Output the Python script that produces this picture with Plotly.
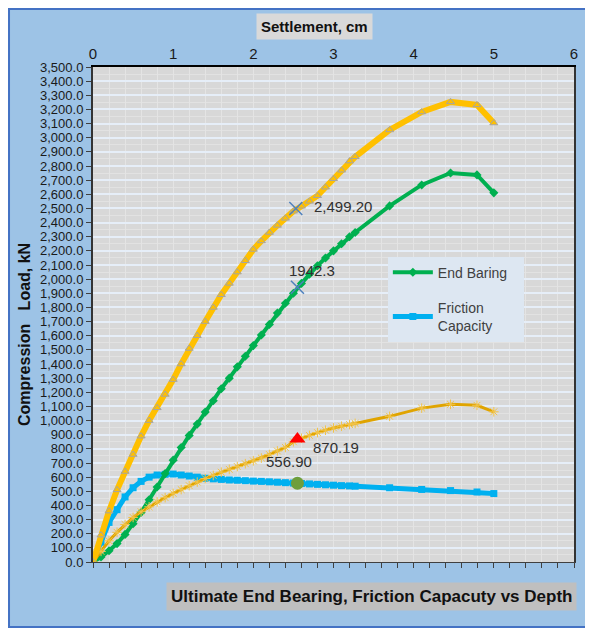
import plotly.graph_objects as go

# Settlement (cm) sample positions
settlement = [0.0, 0.1, 0.2, 0.3, 0.4, 0.5, 0.6, 0.7, 0.8, 0.9, 1.0, 1.1, 1.2, 1.3, 1.4, 1.5,
              1.6, 1.7, 1.8, 1.9, 2.0, 2.1, 2.2, 2.3, 2.4, 2.5, 2.6, 2.7, 2.8, 2.9, 3.0, 3.1,
              3.2, 3.27, 3.7, 4.1, 4.46, 4.79, 5.0]

# Total (upper yellow) capacity, kN
total_capacity = [0, 190, 360, 510, 640, 760, 890, 1000, 1090, 1185, 1290, 1400, 1510, 1600,
                  1700, 1800, 1890, 1970, 2050, 2130, 2210, 2270, 2330, 2380, 2430, 2480, 2515,
                  2550, 2590, 2650, 2710, 2770, 2835, 2865, 3055, 3182, 3253, 3232, 3104]

# End Baring (green), kN
end_bearing = [0, 35, 80, 130, 195, 270, 350, 440, 530, 625, 720, 810, 895, 975, 1060, 1140,
               1225, 1300, 1380, 1455, 1530, 1605, 1680, 1760, 1830, 1900, 1970, 2035, 2095,
               2150, 2200, 2250, 2300, 2330, 2518, 2666, 2751, 2737, 2610]

# Friction Capacity (blue), kN
friction = [0, 140, 280, 370, 460, 525, 570, 600, 615, 620, 622, 615, 608, 600, 592, 588, 584,
            580, 578, 575, 572, 570, 567, 564, 561, 558, 555, 552, 549, 546, 543, 540, 538, 536,
            525, 513, 505, 495, 484]

# Lower gold curve, kN
lower_curve = [0, 75, 150, 210, 265, 315, 355, 390, 425, 455, 485, 512, 540, 565, 590, 612, 635,
               655, 675, 695, 715, 735, 760, 785, 810, 850, 875, 895, 915, 932, 948, 960, 972,
               980, 1030, 1088, 1115, 1108, 1062]

# Highlighted points
pt_x = [2.53, 2.55, 2.55, 2.55]
pt_y = [2499.20, 1942.3, 870.19, 556.90]
pt_labels = ["2,499.20", "1942.3", "870.19", "556.90"]

x_ticks = [0, 1, 2, 3, 4, 5, 6]

FONT = "Liberation Sans, Arial, sans-serif"

fig = go.Figure()

fig.add_trace(go.Scatter(
    x=settlement, y=friction, mode="lines+markers", name="Friction<br>Capacity",
    line=dict(color="#00B0F0", width=5), marker=dict(symbol="square", size=7, color="#00B0F0"),
    legendgroup="b", legendrank=2))

fig.add_trace(go.Scatter(
    x=settlement, y=end_bearing, mode="lines+markers", name="End Baring\u00a0\u00a0\u00a0",
    line=dict(color="#00B050", width=4), marker=dict(symbol="diamond", size=7, color="#00B050"),
    legendgroup="a", legendrank=1))

fig.add_trace(go.Scatter(
    x=settlement, y=lower_curve, mode="lines+markers", name="lower", showlegend=False,
    line=dict(color="#E0A400", width=3),
    marker=dict(symbol="asterisk-open", size=8, color="#F2C44A", line=dict(width=1, color="#F2C44A"))))

fig.add_trace(go.Scatter(
    x=settlement, y=total_capacity, mode="lines+markers", name="total", showlegend=False,
    line=dict(color="#FFC000", width=6),
    marker=dict(symbol="triangle-up", size=7, color="#FFC000", line=dict(width=1, color="#A5A5A5"))))

# highlight markers
fig.add_trace(go.Scatter(
    x=pt_x[:2], y=pt_y[:2], mode="markers", showlegend=False,
    marker=dict(symbol="x-thin", size=13, line=dict(width=1.5, color="#4F81BD"))))
fig.add_trace(go.Scatter(
    x=[pt_x[2]], y=[pt_y[2]], mode="markers", showlegend=False,
    marker=dict(symbol="triangle-up", size=14, color="#FF0000")))
fig.add_trace(go.Scatter(
    x=[pt_x[3]], y=[pt_y[3]], mode="markers", showlegend=False,
    marker=dict(symbol="circle", size=13, color="#6E9E3C")))

# dummy for top axis
fig.add_trace(go.Scatter(x=[0, 6], y=[0, 0], xaxis="x2", mode="markers",
                         marker=dict(opacity=0), showlegend=False, hoverinfo="skip"))

label_shift = [(47, 2), (15, 17), (39, -9), (-8, 22)]
for (px, py, txt), (dx, dy) in zip(zip(pt_x, pt_y, pt_labels), label_shift):
    fig.add_annotation(x=px, y=py, text=txt, showarrow=False, xshift=dx, yshift=dy,
                       xanchor="center", yanchor="middle",
                       font=dict(family=FONT, size=15, color="#303030"))

fig.update_layout(
    width=585, height=620, autosize=False,
    margin=dict(l=85, r=19, t=59, b=66),
    paper_bgcolor="#9DC3E6", plot_bgcolor="#D8D8D8",
    font=dict(family=FONT, color="#262626"),
    xaxis=dict(range=[0, 6], side="bottom", showticklabels=False, ticks="outside",
               tick0=0, dtick=0.2, ticklen=5, tickcolor="#404040", tickwidth=1,
               showline=True, linecolor="#404040", linewidth=1, mirror=True,
               showgrid=True, gridcolor="#E4E4E4", gridwidth=1, zeroline=False),
    xaxis2=dict(range=[0, 6], overlaying="x", side="top", tickvals=x_ticks,
                ticktext=[str(v) for v in x_ticks], ticks="", showgrid=False, zeroline=False,
                showline=True, linecolor="black", linewidth=1.5,
                tickfont=dict(family=FONT, size=15, color="#1A1A1A")),
    yaxis=dict(range=[0, 3500], tick0=0, dtick=100, tickformat=",.1f", ticks="outside",
               ticklen=5, tickcolor="#404040", showline=True, linecolor="#333333", linewidth=2,
               mirror=True, showgrid=True, gridcolor="#E6EEF8", gridwidth=1.5, zeroline=False,
               minor=dict(dtick=50, showgrid=True, gridcolor="#E2E2E2", gridwidth=1),
               tickfont=dict(family=FONT, size=13, color="#1A1A1A")),
    legend=dict(x=0.613, y=0.617, xanchor="left", yanchor="top", bgcolor="#DDE7F2",
                borderwidth=0, traceorder="grouped", tracegroupgap=14, itemwidth=40,
                font=dict(family=FONT, size=14, color="#404040")),
    shapes=[dict(type="rect", xref="paper", yref="paper", x0=-0.1746, x1=1.06,
                 y0=-0.1313, y1=1.117,
                 line=dict(color="#4472C4", width=2), layer="below")],
)

fig.add_annotation(xref="paper", yref="paper", x=0.4615, y=1.081, showarrow=False,
                   xanchor="center", yanchor="middle",
                   text="<b>Settlement, cm</b>", bgcolor="#D9D9D9", borderpad=4,
                   font=dict(family=FONT, size=15, color="#111111"))
fig.add_annotation(xref="paper", yref="paper", x=0.578, y=-0.0707, showarrow=False,
                   xanchor="center", yanchor="middle",
                   text="<b>Ultimate End Bearing, Friction Capacuty vs Depth</b>",
                   bgcolor="#BFBFBF", borderpad=4,
                   font=dict(family=FONT, size=17, color="#111111"))
fig.add_annotation(xref="paper", yref="paper", x=-0.141, y=0.459, showarrow=False,
                   xanchor="center", yanchor="middle",
                   text="<b>Compression\u00a0\u00a0 Load, kN</b>", textangle=-90,
                   font=dict(family=FONT, size=16, color="#111111"))

fig.write_html("out.html")
